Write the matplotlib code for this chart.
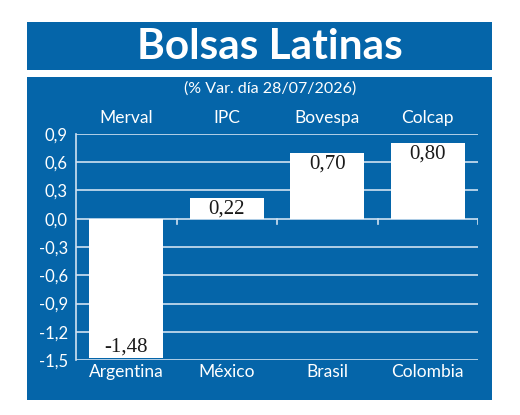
import matplotlib
matplotlib.use("Agg")
import matplotlib.pyplot as plt
from matplotlib.patches import Rectangle
from matplotlib.transforms import blended_transform_factory

countries = ["Argentina", "México", "Brasil", "Colombia"]
indices = ["Merval", "IPC", "Bovespa", "Colcap"]
values = [-1.48, 0.22, 0.70, 0.80]
yticks = [-1.5, -1.2, -0.9, -0.6, -0.3, 0.0, 0.3, 0.6, 0.9]
title = "Bolsas Latinas"
subtitle = "(% Var. día 28/07/2026)"

BLUE = "#0565A9"
GRID = "#CFE1F2"
FONT = "Lato"
W, H = 520, 415

fig = plt.figure(figsize=(5.2, 4.15), dpi=100)
fig.patch.set_facecolor("white")

def fx(x): return x / W
def fy(y): return 1 - y / H

bg = fig.add_axes([0, 0, 1, 1], zorder=-5)
bg.set_xlim(0, W)
bg.set_ylim(H, 0)
bg.axis("off")
bg.add_patch(Rectangle((27, 22), 465, 48, facecolor=BLUE, edgecolor="none"))
bg.add_patch(Rectangle((27, 77), 465, 323, facecolor=BLUE, edgecolor="none"))
bg.text(270, 47, title, ha="center", va="center", color="white",
        fontsize=30.5, fontweight="bold", family=FONT)
bg.text(270, 89, subtitle, ha="center", va="center", color="white",
        fontsize=11.5, family=FONT)

ax = fig.add_axes([fx(76), fy(360), fx(478) - fx(76), fy(134) - fy(360)], zorder=1)
ax.set_facecolor("none")
x = list(range(len(values)))
ax.set_xlim(-0.5, len(values) - 0.5)
ax.set_ylim(-1.5, 0.9)

for t in yticks:
    ax.axhline(t, color=GRID, lw=1.2, zorder=1)

ax.bar(x, values, width=0.74, color="white", edgecolor="none", zorder=3)

for xi, v in zip(x, values):
    lab = f"{v:.2f}".replace(".", ",")
    if v >= 0:
        ax.text(xi, v - 0.015, lab, ha="center", va="top", fontsize=15,
                family="Liberation Serif", color="#1a1a1a", zorder=4)
    else:
        ax.text(xi, v + 0.02, lab, ha="center", va="bottom", fontsize=15,
                family="Liberation Serif", color="#1a1a1a", zorder=4)

for b in [0.5, 1.5, 2.5, 3.5]:
    ax.plot([b, b], [0, -0.06], color=GRID, lw=1.2, zorder=2)

for s in ["top", "right", "bottom"]:
    ax.spines[s].set_visible(False)
ax.spines["left"].set_color(GRID)
ax.spines["left"].set_linewidth(1.2)

ax.set_yticks(yticks)
ax.set_yticklabels([f"{t:.1f}".replace(".", ",") for t in yticks],
                   color="white", fontsize=12, family=FONT)
ax.tick_params(axis="y", length=0, pad=6)
ax.set_xticks([])

tr = blended_transform_factory(ax.transData, fig.transFigure)
for xi, c in zip(x, countries):
    ax.text(xi, fy(372), c, transform=tr, ha="center", va="center",
            color="white", fontsize=12.5, family=FONT)
for xi, c in zip(x, indices):
    ax.text(xi, fy(118), c, transform=tr, ha="center", va="center",
            color="white", fontsize=12.5, family=FONT)

fig.savefig("out.png", dpi=100, facecolor="white")
